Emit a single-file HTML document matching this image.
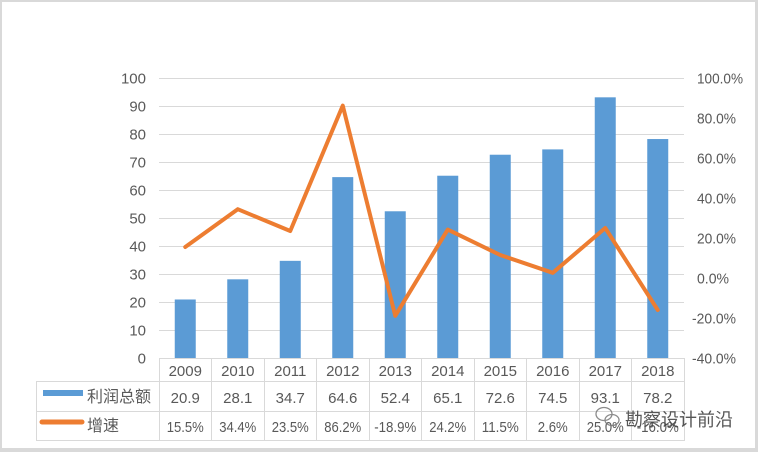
<!DOCTYPE html>
<html><head><meta charset="utf-8"><style>
html,body{margin:0;padding:0;background:#fff;}
svg{display:block;}
</style></head><body>
<svg width="758" height="452" viewBox="0 0 758 452" xmlns="http://www.w3.org/2000/svg">
<rect x="0" y="0" width="758" height="452" fill="#d9d9d9"/>
<rect x="2" y="2" width="753" height="446" fill="#fff"/>
<g stroke="#d9d9d9" stroke-width="1">
<line x1="159" x2="684" y1="78.5" y2="78.5"/>
<line x1="159" x2="684" y1="106.5" y2="106.5"/>
<line x1="159" x2="684" y1="134.5" y2="134.5"/>
<line x1="159" x2="684" y1="162.5" y2="162.5"/>
<line x1="159" x2="684" y1="190.5" y2="190.5"/>
<line x1="159" x2="684" y1="218.5" y2="218.5"/>
<line x1="159" x2="684" y1="246.5" y2="246.5"/>
<line x1="159" x2="684" y1="274.5" y2="274.5"/>
<line x1="159" x2="684" y1="302.5" y2="302.5"/>
<line x1="159" x2="684" y1="330.5" y2="330.5"/>
</g>
<g fill="#5b9bd5">
<rect x="174.75" y="299.48" width="21" height="58.52"/>
<rect x="227.25" y="279.32" width="21" height="78.68"/>
<rect x="279.75" y="260.84" width="21" height="97.16"/>
<rect x="332.25" y="177.12" width="21" height="180.88"/>
<rect x="384.75" y="211.28" width="21" height="146.72"/>
<rect x="437.25" y="175.72" width="21" height="182.28"/>
<rect x="489.75" y="154.72" width="21" height="203.28"/>
<rect x="542.25" y="149.4" width="21" height="208.6"/>
<rect x="594.75" y="97.32" width="21" height="260.68"/>
<rect x="647.25" y="139.04" width="21" height="218.96"/>
</g>
<polyline fill="none" stroke="#ed7d31" stroke-width="4" stroke-linejoin="round" stroke-linecap="round"
points="185.25,247 237.75,209.2 290.25,231 342.75,105.6 395.25,315.8 447.75,229.6 500.25,255 552.75,272.8 605.25,228 657.75,310"/>
<g font-family="Liberation Sans, sans-serif" font-size="15" fill="#595959" text-anchor="end">
<text x="146" y="83.5">100</text>
<text x="146" y="111.5">90</text>
<text x="146" y="139.5">80</text>
<text x="146" y="167.5">70</text>
<text x="146" y="195.5">60</text>
<text x="146" y="223.5">50</text>
<text x="146" y="251.5">40</text>
<text x="146" y="279.5">30</text>
<text x="146" y="307.5">20</text>
<text x="146" y="335.5">10</text>
<text x="146" y="363.5">0</text>
</g>
<g font-family="Liberation Sans, sans-serif" font-size="15" fill="#595959">
<text x="697" y="83.5" textLength="46" lengthAdjust="spacingAndGlyphs">100.0%</text>
<text x="697" y="123.5" textLength="39" lengthAdjust="spacingAndGlyphs">80.0%</text>
<text x="697" y="163.5" textLength="39" lengthAdjust="spacingAndGlyphs">60.0%</text>
<text x="697" y="203.5" textLength="39" lengthAdjust="spacingAndGlyphs">40.0%</text>
<text x="697" y="243.5" textLength="39" lengthAdjust="spacingAndGlyphs">20.0%</text>
<text x="697" y="283.5" textLength="32" lengthAdjust="spacingAndGlyphs">0.0%</text>
<text x="692" y="323.5" textLength="44" lengthAdjust="spacingAndGlyphs">-20.0%</text>
<text x="692" y="363.5" textLength="44" lengthAdjust="spacingAndGlyphs">-40.0%</text>
</g>
<g stroke="#d9d9d9" stroke-width="1">
<line x1="159" x2="684" y1="358.5" y2="358.5"/>
<line x1="36" x2="684" y1="381.5" y2="381.5"/>
<line x1="36" x2="684" y1="411.5" y2="411.5"/>
<line x1="36" x2="684" y1="440.5" y2="440.5"/>
<line x1="36.5" x2="36.5" y1="381" y2="441"/>
<line x1="159.5" x2="159.5" y1="358" y2="441"/>
<line x1="211.5" x2="211.5" y1="358" y2="441"/>
<line x1="264.5" x2="264.5" y1="358" y2="441"/>
<line x1="316.5" x2="316.5" y1="358" y2="441"/>
<line x1="369.5" x2="369.5" y1="358" y2="441"/>
<line x1="421.5" x2="421.5" y1="358" y2="441"/>
<line x1="474.5" x2="474.5" y1="358" y2="441"/>
<line x1="526.5" x2="526.5" y1="358" y2="441"/>
<line x1="579.5" x2="579.5" y1="358" y2="441"/>
<line x1="631.5" x2="631.5" y1="358" y2="441"/>
<line x1="684.5" x2="684.5" y1="358" y2="441"/>
</g>
<g font-family="Liberation Sans, sans-serif" font-size="15" fill="#595959" text-anchor="middle">
<text x="185.25" y="376">2009</text>
<text x="237.75" y="376">2010</text>
<text x="290.25" y="376">2011</text>
<text x="342.75" y="376">2012</text>
<text x="395.25" y="376">2013</text>
<text x="447.75" y="376">2014</text>
<text x="500.25" y="376">2015</text>
<text x="552.75" y="376">2016</text>
<text x="605.25" y="376">2017</text>
<text x="657.75" y="376">2018</text>
<text x="185.25" y="403">20.9</text>
<text x="237.75" y="403">28.1</text>
<text x="290.25" y="403">34.7</text>
<text x="342.75" y="403">64.6</text>
<text x="395.25" y="403">52.4</text>
<text x="447.75" y="403">65.1</text>
<text x="500.25" y="403">72.6</text>
<text x="552.75" y="403">74.5</text>
<text x="605.25" y="403">93.1</text>
<text x="657.75" y="403">78.2</text>
<text x="185.25" y="432" textLength="37" lengthAdjust="spacingAndGlyphs">15.5%</text>
<text x="237.75" y="432" textLength="37" lengthAdjust="spacingAndGlyphs">34.4%</text>
<text x="290.25" y="432" textLength="37" lengthAdjust="spacingAndGlyphs">23.5%</text>
<text x="342.75" y="432" textLength="37" lengthAdjust="spacingAndGlyphs">86.2%</text>
<text x="395.25" y="432" textLength="42" lengthAdjust="spacingAndGlyphs">-18.9%</text>
<text x="447.75" y="432" textLength="37" lengthAdjust="spacingAndGlyphs">24.2%</text>
<text x="500.25" y="432" textLength="37" lengthAdjust="spacingAndGlyphs">11.5%</text>
<text x="552.75" y="432" textLength="30" lengthAdjust="spacingAndGlyphs">2.6%</text>
<text x="605.25" y="432" textLength="37" lengthAdjust="spacingAndGlyphs">25.0%</text>
<text x="657.75" y="432" textLength="42" lengthAdjust="spacingAndGlyphs">-16.0%</text>
</g>
<rect x="43" y="390" width="40" height="6" fill="#5b9bd5"/>
<line x1="42" y1="422" x2="82" y2="422" stroke="#ed7d31" stroke-width="5" stroke-linecap="round"/>
<g font-family="Liberation Sans, 'Noto Sans CJK SC', sans-serif" font-size="16" fill="#595959">
<text x="87" y="402">利润总额</text>
<text x="87" y="431">增速</text>
</g>
<g fill="none" stroke="#777" stroke-width="1.3" opacity="0.85">
<ellipse cx="604" cy="414" rx="8" ry="6.5"/>
<ellipse cx="612" cy="420" rx="7" ry="5.5"/>
</g>
<text x="625" y="426" font-family="Liberation Sans, 'Noto Sans CJK SC', sans-serif" font-size="18" fill="#444" opacity="0.9">勘察设计前沿</text>
</svg>
</body></html>
